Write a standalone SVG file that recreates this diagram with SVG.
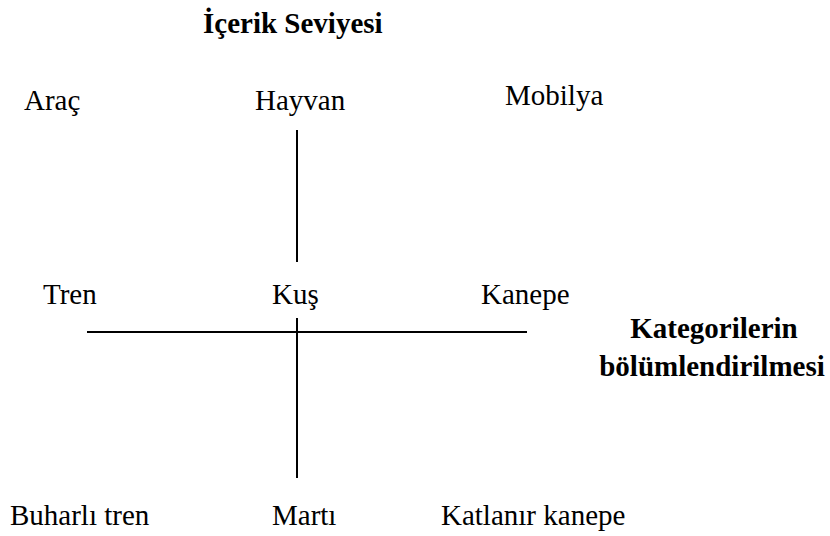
<svg xmlns="http://www.w3.org/2000/svg" width="830" height="536" viewBox="0 0 830 536">
<style>
text{font-family:'Liberation Serif','Times New Roman',Tinos,'DejaVu Serif',serif;font-size:29px;fill:#000}
.b{font-weight:bold}
.ln{stroke:#000;stroke-width:2;fill:none}
</style>
<rect width="830" height="536" fill="#fff"/>
<g id="connectors">
<line class="ln" x1="297" y1="130" x2="297" y2="262"/>
<line class="ln" x1="87" y1="332" x2="527" y2="332"/>
<line class="ln" x1="297" y1="318" x2="297" y2="478"/>
</g>
<g id="title"><text class="b" x="203" y="33">İçerik Seviyesi</text></g>
<g id="axis-label"><text class="b" text-anchor="middle" x="714" y="338">Kategorilerin</text><text class="b" text-anchor="middle" x="712" y="376">bölümlendirilmesi</text></g>
<g id="arac"><text x="24" y="110">Araç</text></g>
<g id="hayvan"><text x="255" y="110">Hayvan</text></g>
<g id="mobilya"><text x="505" y="105">Mobilya</text></g>
<g id="tren"><text x="43" y="304">Tren</text></g>
<g id="kus"><text x="272" y="304">Kuş</text></g>
<g id="kanepe"><text x="481" y="304">Kanepe</text></g>
<g id="buharli-tren"><text x="10" y="525">Buharlı tren</text></g>
<g id="marti"><text x="272" y="525">Martı</text></g>
<g id="katlanir-kanepe"><text x="441" y="525">Katlanır kanepe</text></g>
</svg>
